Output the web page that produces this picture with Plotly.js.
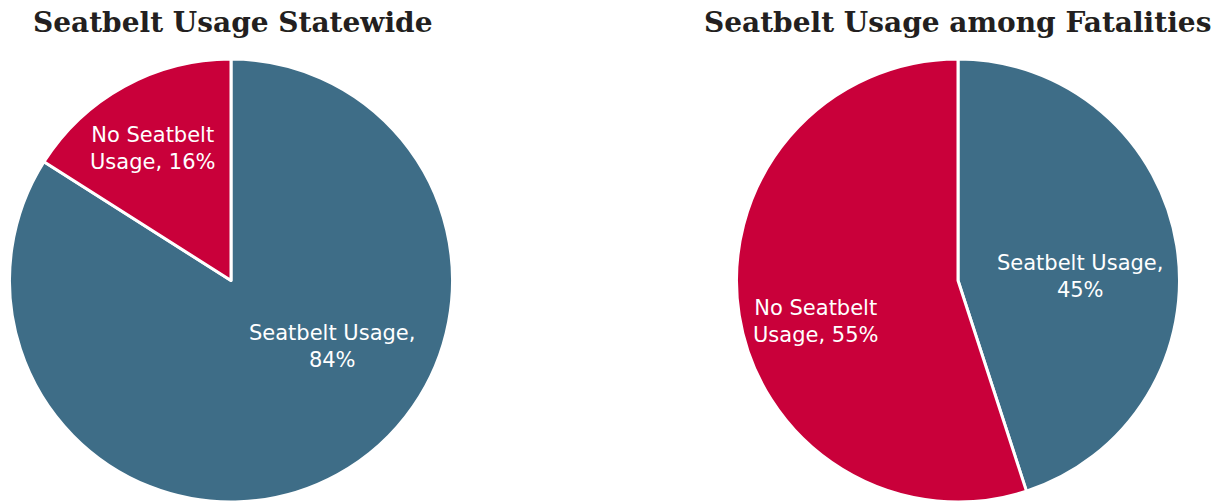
<!DOCTYPE html>
<html>
<head>
<meta charset="utf-8">
<script src="https://cdn.plot.ly/plotly-3.0.1.min.js"></script>
<style>html,body{margin:0;padding:0;background:#fff;}#chart{width:1223px;height:502px;}</style>
</head>
<body>
<div id="chart"></div>
<script>
const categories = ["Seatbelt Usage", "No Seatbelt Usage"];
const statewideValues = [84, 16];
const fatalityValues = [45, 55];
const statewideLabels = ["Seatbelt Usage,<br>84%", "No Seatbelt<br>Usage, 16%"];
const fatalityLabels = ["Seatbelt Usage,<br>45%", "No Seatbelt<br>Usage, 55%"];
const chartTitles = ["Seatbelt Usage Statewide", "Seatbelt Usage among Fatalities"];

const colors = ["#3E6D87", "#C9003A"];
const W = 1223, H = 502;

function pie(values, domain) {
  return {
    type: "pie",
    labels: categories,
    values: values,
    textinfo: "none",
    hoverinfo: "label+percent",
    sort: false,
    direction: "clockwise",
    rotation: 0,
    marker: {colors: colors, line: {color: "#ffffff", width: 3}},
    domain: domain,
    showlegend: false
  };
}

const data = [
  pie(statewideValues, {x: [9/W, 453/W], y: [0, (H - 59) / H]}),
  pie(fatalityValues, {x: [736/W, 1180/W], y: [0, (H - 59) / H]})
];

const titleFont = {family: "DejaVu Serif", size: 28, color: "#231F20", weight: 700};
const labelFont = {family: "DejaVu Sans", size: 21, color: "#ffffff"};
function lbl(text, px, py) {
  return {text: text, x: px / W, y: 1 - py / H, xref: "paper", yref: "paper",
          xanchor: "center", yanchor: "middle", align: "center", showarrow: false, font: labelFont};
}
const layout = {
  width: W, height: H,
  margin: {l: 0, r: 0, t: 0, b: 0},
  paper_bgcolor: "#ffffff",
  annotations: [
    {text: "<b>" + chartTitles[0] + "</b>", x: 232 / W, y: 1 - 23 / H, xref: "paper", yref: "paper", xanchor: "center", yanchor: "middle", showarrow: false, font: titleFont},
    {text: "<b>" + chartTitles[1] + "</b>", x: 957 / W, y: 1 - 23 / H, xref: "paper", yref: "paper", xanchor: "center", yanchor: "middle", showarrow: false, font: titleFont},
    lbl(statewideLabels[0], 332, 346),
    lbl(statewideLabels[1], 152, 149),
    lbl(fatalityLabels[0], 1080, 276),
    lbl(fatalityLabels[1], 815, 321)
  ]
};

Plotly.newPlot("chart", data, layout, {displayModeBar: false, staticPlot: true});
</script>
</body>
</html>
